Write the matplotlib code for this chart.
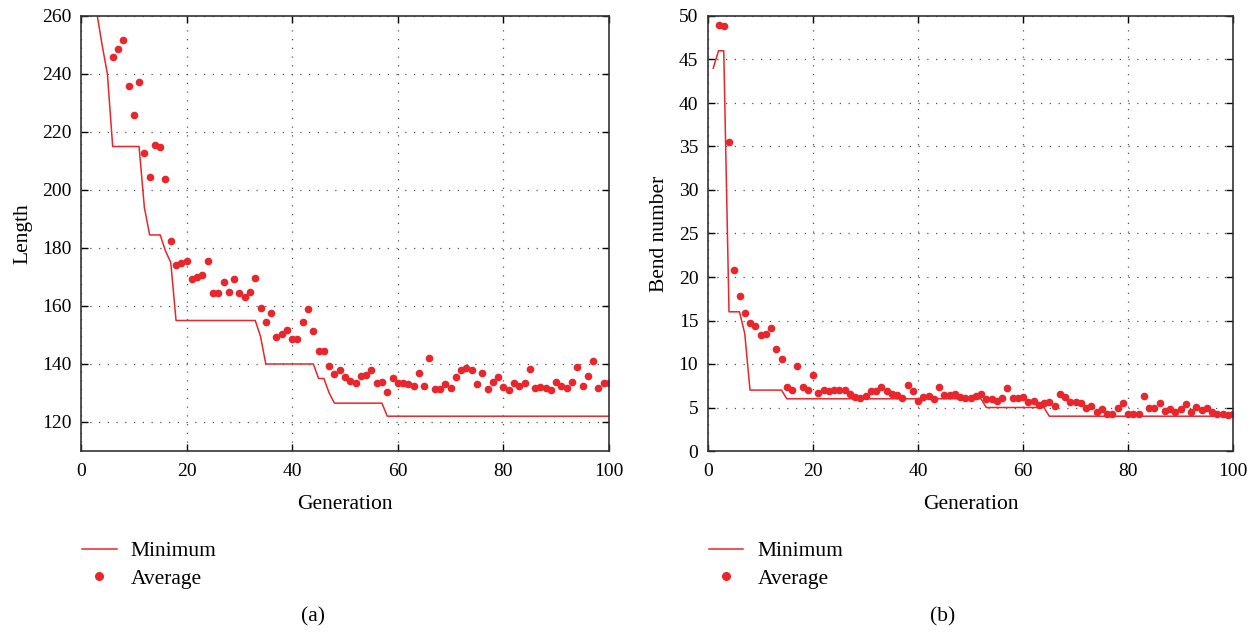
import numpy as np
import matplotlib
matplotlib.use('Agg')
import matplotlib.pyplot as plt
from matplotlib.lines import Line2D

plt.rcParams['font.family'] = ['Liberation Serif', 'DejaVu Serif']

RED = '#e8262b'

# ---- left panel (a): path length ----
gen_all = list(range(1, 101))
len_min = [283, 272, 261, 250, 240,
           215, 215, 215, 215, 215, 215,
           194, 184.5, 184.5, 184.5, 179, 175,
           155, 155, 155, 155, 155, 155, 155, 155, 155, 155, 155, 155, 155, 155, 155, 155,
           149.5,
           140, 140, 140, 140, 140, 140, 140, 140, 140, 140,
           135, 135, 130,
           126.5, 126.5, 126.5, 126.5, 126.5, 126.5, 126.5, 126.5, 126.5, 126.5,
           122, 122, 122, 122, 122, 122, 122, 122, 122, 122,
           122, 122, 122, 122, 122, 122, 122, 122, 122, 122,
           122, 122, 122, 122, 122, 122, 122, 122, 122, 122,
           122, 122, 122, 122, 122, 122, 122, 122, 122, 122,
           122, 122, 122]
len_avg_gen = list(range(6, 101))
len_avg = [245.9, 248.6, 251.8, 235.9, 226.0, 237.1, 212.9, 204.5, 215.6, 214.8,
           203.7, 182.5, 174.2, 174.7, 175.4, 169.4, 169.9, 170.7, 175.4, 164.5,
           164.5, 168.4, 164.8, 169.4, 164.5, 163.2, 164.8, 169.8, 159.3, 154.5,
           157.7, 149.2, 150.4, 151.7, 148.6, 148.6, 154.5, 158.9, 151.3, 144.6,
           144.6, 139.4, 136.6, 137.8, 135.5, 134.2, 133.4, 135.9, 136.3, 137.8,
           133.4, 133.8, 130.2, 135.0, 133.4, 133.4, 133.0, 132.5, 137.0, 132.5,
           142.2, 131.4, 131.4, 133.0, 131.8, 135.4, 137.8, 138.5, 137.8, 133.0,
           137.0, 131.4, 133.8, 135.4, 132.2, 131.0, 133.4, 132.5, 133.4, 138.2,
           131.8, 132.2, 131.8, 131.0, 133.8, 132.4, 131.8, 133.8, 139.0, 132.4,
           135.8, 141.0, 131.8, 133.4, 133.4]

# ---- right panel (b): bend number ----
bend_min = [44, 46, 46, 16, 16, 16, 13.5,
            7, 7, 7, 7, 7, 7, 7,
            6, 6, 6, 6, 6, 6, 6, 6, 6, 6, 6, 6, 6, 6, 6, 6, 6, 6, 6,
            6, 6, 6, 6, 6, 6, 6, 6, 6, 6, 6, 6, 6, 6, 6, 6, 6, 6, 6,
            5, 5, 5, 5, 5, 5, 5, 5, 5, 5, 5, 5,
            4, 4, 4, 4, 4, 4, 4, 4, 4, 4, 4, 4, 4, 4, 4, 4, 4, 4,
            4, 4, 4, 4, 4, 4, 4, 4, 4, 4, 4, 4, 4, 4, 4, 4, 4, 4]
bend_avg_gen = list(range(2, 101))
bend_avg = [49.0, 48.8, 35.5, 20.8, 17.8, 15.9, 14.7, 14.4, 13.3, 13.4,
            14.1, 11.7, 10.6, 7.3, 7.0, 9.8, 7.3, 7.0, 8.7, 6.7,
            7.0, 6.9, 7.0, 7.0, 7.0, 6.55, 6.2, 6.1, 6.3, 6.9,
            6.9, 7.4, 6.9, 6.6, 6.4, 6.1, 7.55, 6.9, 5.7, 6.2,
            6.3, 6.0, 7.3, 6.4, 6.4, 6.6, 6.2, 6.1, 6.1, 6.3,
            6.5, 6.0, 6.0, 5.8, 6.1, 7.2, 6.1, 6.1, 6.2, 5.6,
            5.8, 5.3, 5.5, 5.65, 5.2, 6.5, 6.2, 5.6, 5.6, 5.5,
            5.0, 5.2, 4.5, 4.8, 4.3, 4.3, 4.9, 5.5, 4.3, 4.3,
            4.3, 6.3, 4.9, 4.9, 5.5, 4.6, 4.8, 4.5, 4.8, 5.4,
            4.5, 5.1, 4.7, 5.0, 4.5, 4.3, 4.2, 4.1, 4.2]

FS_TICK = 14
FS_LABEL = 15.5


def style_axes(ax):
    ax.grid(True, color='#555555', linestyle=(0, (1, 6)), linewidth=0.9)
    ax.tick_params(direction='in', top=True, right=True, length=5,
                   labelsize=FS_TICK, width=1)
    ax.tick_params(axis='x', pad=8.5)
    ax.tick_params(axis='y', pad=7)
    for s in ax.spines.values():
        s.set_color('#333333')
        s.set_linewidth(1.2)
    ax.set_xlabel('Generation', fontsize=FS_LABEL, labelpad=11)


def add_legend(ax):
    handles = [Line2D([], [], color=RED, lw=1.1),
               Line2D([], [], color=RED, lw=0, marker='o', markersize=5.5)]
    ax.legend(handles, ['Minimum', 'Average'], loc='upper left',
              bbox_to_anchor=(0.002, -0.207), frameon=False, fontsize=FS_LABEL,
              handlelength=1.6, handletextpad=0.65, labelspacing=0.35,
              borderpad=0, borderaxespad=0)


fig = plt.figure(figsize=(12.59, 6.33), dpi=100)
ax1 = fig.add_axes([81 / 1259, (633 - 451) / 633, 528 / 1259, 435 / 633])
ax2 = fig.add_axes([708 / 1259, (633 - 451) / 633, 525 / 1259, 435 / 633])

ax1.plot(gen_all, len_min, color=RED, lw=1.1)
ax1.plot(len_avg_gen, len_avg, 'o', color=RED, markersize=5.5, markeredgewidth=0)
ax1.set_xlim(0, 100)
ax1.set_ylim(110, 260)
ax1.set_yticks([120, 140, 160, 180, 200, 220, 240, 260])
ax1.set_xticks([0, 20, 40, 60, 80, 100])
ax1.set_ylabel('Length', fontsize=FS_LABEL, labelpad=7)
style_axes(ax1)
add_legend(ax1)

ax2.plot(gen_all, bend_min, color=RED, lw=1.1)
ax2.plot(bend_avg_gen, bend_avg, 'o', color=RED, markersize=5.5, markeredgewidth=0)
ax2.set_xlim(0, 100)
ax2.set_ylim(0, 50)
ax2.set_yticks(np.arange(0, 51, 5))
ax2.set_xticks([0, 20, 40, 60, 80, 100])
ax2.set_ylabel('Bend number', fontsize=FS_LABEL, labelpad=7)
style_axes(ax2)
add_legend(ax2)

fig.text(313 / 1259, 1 - 617 / 633, '(a)', ha='center', va='center', fontsize=FS_LABEL)
fig.text(943 / 1259, 1 - 617 / 633, '(b)', ha='center', va='center', fontsize=FS_LABEL)

fig.savefig('out.png', dpi=100)
